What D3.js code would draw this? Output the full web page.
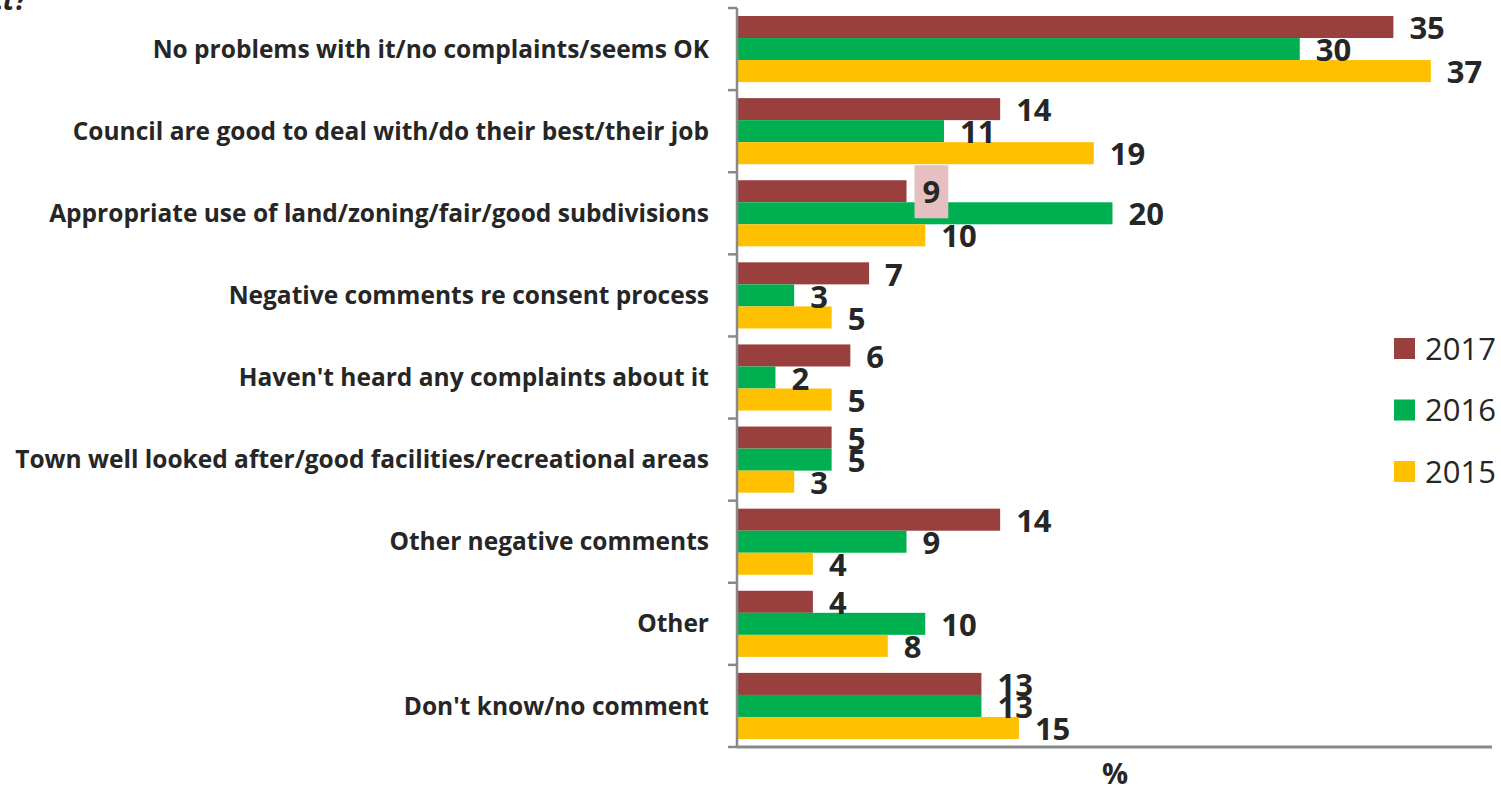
<!DOCTYPE html>
<html>
<head>
<meta charset="utf-8">
<script src="https://cdn.jsdelivr.net/npm/d3@7/dist/d3.min.js"></script>
<style>
  html, body { margin: 0; padding: 0; background: #fff; }
  svg { display: block; }
</style>
</head>
<body>
<svg id="chart" width="1501" height="789"></svg>
<script>
// Survey responses, percentage of respondents by year
const categories = [
  "No problems with it/no complaints/seems OK",
  "Council are good to deal with/do their best/their job",
  "Appropriate use of land/zoning/fair/good subdivisions",
  "Negative comments re consent process",
  "Haven't heard any complaints about it",
  "Town well looked after/good facilities/recreational areas",
  "Other negative comments",
  "Other",
  "Don't know/no comment"
];
const seriesNames = ["2017", "2016", "2015"];
const values2017 = [35, 14, 9, 7, 6, 5, 14, 4, 13];
const values2016 = [30, 11, 20, 3, 2, 5, 9, 10, 13];
const values2015 = [37, 19, 10, 5, 5, 3, 4, 8, 15];
const seriesColors = ["#993F3D", "#00B050", "#FFC000"];
// labels drawn on a highlighted background: [series index, category index]
const highlighted = [[0, 2]];
const titleTail = "ct?";
const axisTitle = "%";

const seriesValues = [values2017, values2016, values2015];

const svg = d3.select("#chart");
const textColor = "#262626";
const axisColor = "#898989";

const plotLeft = 738, plotRight = 1492, plotTop = 8, plotBottom = 747;

const y = d3.scaleBand().domain(categories).range([plotTop, plotBottom]).paddingInner(0).paddingOuter(0);
const ySeries = d3.scaleBand().domain(seriesNames).range([8, y.bandwidth() - 8]).padding(0);
const x = d3.scaleLinear().domain([0, 40]).range([plotLeft, 1487]);

// fragment of the question heading, cut at the top edge
svg.append("text")
  .attr("x", 27).attr("y", 10)
  .attr("text-anchor", "end")
  .attr("font-family", "Open Sans")
  .attr("font-weight", "bold")
  .attr("font-style", "italic")
  .attr("font-size", 28)
  .attr("fill", textColor)
  .text(titleTail);

// bars
const rows = [];
seriesNames.forEach((s, si) => {
  categories.forEach((c, ci) => {
    rows.push({ s, si, c, ci, v: seriesValues[si][ci] });
  });
});

svg.append("g").selectAll("rect")
  .data(rows)
  .join("rect")
  .attr("x", x(0))
  .attr("y", d => y(d.c) + ySeries(d.s))
  .attr("width", d => x(d.v) - x(0))
  .attr("height", ySeries.bandwidth())
  .attr("fill", d => seriesColors[d.si]);

// value labels
const labelG = svg.append("g");
rows.forEach(d => {
  const cy = y(d.c) + ySeries(d.s) + ySeries.bandwidth() / 2 + 1;
  const isHi = highlighted.some(h => h[0] === d.si && h[1] === d.ci);
  const g = labelG.append("g");
  const t = g.append("text")
    .attr("x", x(d.v) + 16)
    .attr("y", cy)
    .attr("dy", "0.36em")
    .attr("font-family", "Open Sans")
    .attr("font-weight", "bold")
    .attr("font-size", 31)
    .attr("fill", textColor)
    .text(d.v);
  if (isHi) {
    const w = t.node().getComputedTextLength();
    g.insert("rect", "text")
      .attr("x", x(d.v) + 8)
      .attr("y", cy - 27)
      .attr("width", w + 16)
      .attr("height", 53)
      .attr("fill", "#E6C0C0");
  }
});

// category labels
svg.append("g").selectAll("text")
  .data(categories)
  .join("text")
  .attr("x", 709)
  .attr("y", d => y(d) + y.bandwidth() / 2)
  .attr("dy", "0.35em")
  .attr("text-anchor", "end")
  .attr("font-family", "Open Sans")
  .attr("font-weight", "bold")
  .attr("font-size", 24.5)
  .attr("fill", textColor)
  .text(d => d);

// vertical axis with ticks on category boundaries
const axisG = svg.append("g").attr("stroke", axisColor).attr("stroke-width", 2.5);
axisG.append("line")
  .attr("x1", plotLeft - 1).attr("x2", plotLeft - 1)
  .attr("y1", plotTop).attr("y2", plotBottom);
const boundaries = categories.map(c => y(c)).concat([plotBottom]);
axisG.selectAll("line.tick")
  .data(boundaries)
  .join("line")
  .attr("class", "tick")
  .attr("x1", plotLeft - 10).attr("x2", plotLeft - 1)
  .attr("y1", d => d).attr("y2", d => d);
// horizontal baseline
axisG.append("line")
  .attr("x1", plotLeft - 1).attr("x2", plotRight)
  .attr("y1", plotBottom).attr("y2", plotBottom)
  .attr("stroke-width", 3);

// axis title
svg.append("text")
  .attr("x", (plotLeft + plotRight) / 2)
  .attr("y", 784)
  .attr("text-anchor", "middle")
  .attr("font-family", "Open Sans")
  .attr("font-weight", "bold")
  .attr("font-size", 29)
  .attr("fill", textColor)
  .text(axisTitle);

// legend
const legend = svg.append("g").attr("transform", "translate(1394,338)");
seriesNames.forEach((s, i) => {
  const g = legend.append("g").attr("transform", `translate(0,${i * 61.5})`);
  g.append("rect").attr("width", 21).attr("height", 21).attr("fill", seriesColors[i]);
  g.append("text")
    .attr("x", 31).attr("y", 10.5)
    .attr("dy", "0.36em")
    .attr("font-family", "Open Sans")
    .attr("font-size", 31)
    .attr("fill", textColor)
    .text(s);
});
</script>
</body>
</html>
